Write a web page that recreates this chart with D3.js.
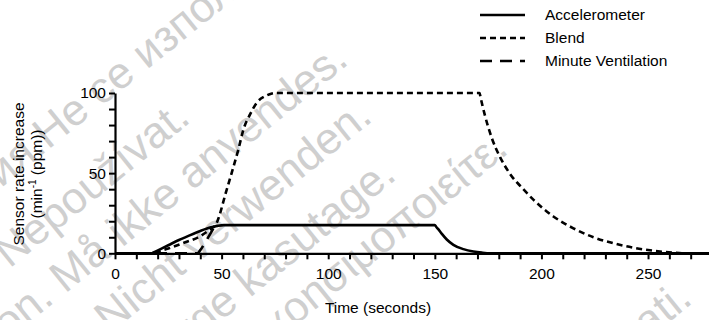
<!DOCTYPE html>
<html><head><meta charset="utf-8">
<script src="https://cdn.jsdelivr.net/npm/d3@7/dist/d3.min.js"></script>
<style>
html,body{margin:0;padding:0;background:#fff;}
svg{display:block;font-family:"Liberation Sans",Arial,Helvetica,sans-serif;}
</style></head>
<body><svg id="c" width="709" height="320"></svg>
<script>
// ---- data ----
const accTime = [0, 17.3, 17.8, 25, 30, 35, 40, 45, 48, 51, 150, 150.7, 151.5, 153.2, 155.6, 158.7, 163.4, 168.1, 172, 176, 280];
const accValue = [0, 0, 0.35, 5, 8.3, 11.2, 13.9, 16.2, 17.1, 17.6, 17.6, 16.4, 15.2, 12.3, 8.6, 5.3, 2.6, 1.1, 0.4, 0, 0];
const blendTime = [0, 18, 18.5, 25, 32, 40, 45.4, 47.2, 48.5, 51.6, 54.8, 57.9, 60.3, 63.4, 66.5, 70.4, 73.6, 75, 171, 171.4, 173.5, 176.7, 180.6, 185.3, 191.5, 196.2, 205.6, 215, 224.4, 233.7, 243, 252.5, 262, 268, 280];
const blendValue = [0, 0, 0.25, 3, 6.4, 10.7, 15.7, 17.6, 21.7, 36, 50.5, 65, 77.5, 86.8, 94, 98, 99.7, 100, 100, 97.6, 86, 72, 60, 49.5, 40, 33.5, 23, 15.6, 10, 6.3, 3.5, 1.6, 0.4, 0, 0];
const mvTime = [0, 38.7, 40, 43.5, 47];
const mvValue = [0, 0, 2, 9.5, 17.5];
const seriesNames = ["Accelerometer", "Blend", "Minute Ventilation"];
const xTicks = d3.range(0, 281, 10);
const xLabels = [0, 50, 100, 150, 200, 250];
const yTicks = d3.range(0, 101, 10);
const yLabels = [0, 50, 100];
const xTitle = "Time (seconds)";
const yTitle1 = "Sensor rate increase";
const yTitle2 = ["(min", "-1", " (ppm))"];
const watermarks = [
  {pre: "Остаряла версия. ", post: "Не се използва.", x: 48, y: 150},
  {pre: "Zastaralá verze. Nepoužívat.", post: "", x: 192, y: 121},
  {pre: "Forældet version. Må ikke anvendes.", post: "", x: 350, y: 63},
  {pre: "Version überholt. Nicht verwenden.", post: "", x: 374, y: 120},
  {pre: "Aegunud versioon. Ärge kasutage.", post: "", x: 398, y: 178},
  {pre: "Παλιά έκδοση. Μην τη χρησιμοποιείτε.", post: "", x: 510, y: 152},
  {pre: "Zastarjela verzija. Nemojte upotrebljavati.", post: "", x: 694, y: 302}
];

// ---- chart ----
const svg = d3.select("#c");
const FS = 15.5;

// watermarks
const wm = svg.append("g").attr("fill", "#cfcfcf").attr("font-size", 44);
watermarks.forEach(w => {
  const g = wm.append("g").attr("transform", `translate(${w.x},${w.y}) rotate(-39)`);
  if (w.pre) g.append("text").attr("text-anchor", "end").text(w.pre);
  if (w.post) g.append("text").attr("text-anchor", "start").text(w.post);
});

const x = d3.scaleLinear().domain([0, 280]).range([115, 712]);
const y = d3.scaleLinear().domain([0, 100]).range([253.3, 93]);

// x axis
const xa = svg.append("g").attr("transform", `translate(0,${y(0)})`)
  .call(d3.axisBottom(x).tickValues(xTicks).tickSize(6).tickSizeOuter(0)
    .tickFormat(d => xLabels.includes(d) ? d : ""));
xa.select(".domain").attr("stroke", "#000").attr("stroke-width", 2.2);
xa.selectAll(".tick line").attr("stroke", "#000").attr("stroke-width", 2);
xa.selectAll(".tick text").attr("font-size", FS).attr("font-family", "Liberation Sans, Arial, sans-serif").attr("fill", "#000").attr("dy", "1.05em");

// y axis
const ya = svg.append("g").attr("transform", `translate(${x(0)},0)`)
  .call(d3.axisLeft(y).tickValues(yTicks).tickSize(6).tickSizeOuter(0)
    .tickFormat(d => yLabels.includes(d) ? d : ""));
ya.select(".domain").attr("stroke", "#000").attr("stroke-width", 2.2);
ya.selectAll(".tick line").attr("stroke", "#000").attr("stroke-width", 2);
ya.selectAll(".tick text").attr("font-size", FS).attr("font-family", "Liberation Sans, Arial, sans-serif").attr("fill", "#000").attr("x", -9);

// titles
svg.append("text").attr("x", 378).attr("y", 313).attr("text-anchor", "middle")
  .attr("font-size", FS).text(xTitle);
svg.append("text").attr("transform", "translate(24,174) rotate(-90)")
  .attr("text-anchor", "middle").attr("font-size", FS).text(yTitle1);
const t2 = svg.append("text").attr("transform", "translate(42,174) rotate(-90)")
  .attr("text-anchor", "middle").attr("font-size", FS);
t2.append("tspan").text(yTitle2[0]);
t2.append("tspan").attr("dy", -6).attr("font-size", 10).text(yTitle2[1]);
t2.append("tspan").attr("dy", 6).text(yTitle2[2]);

// lines
const line = d3.line().x(d => x(d[0])).y(d => y(d[1])).curve(d3.curveMonotoneX);
const dashes = [null, "6,4", "12,8"];
const series = [
  d3.zip(accTime, accValue),
  d3.zip(blendTime, blendValue),
  d3.zip(mvTime, mvValue)
];
[2, 1, 0].forEach(i => {
  svg.append("path").datum(series[i]).attr("d", line)
    .attr("fill", "none").attr("stroke", "#000").attr("stroke-width", 2.6)
    .attr("stroke-dasharray", dashes[i]);
});

// legend
const lg = svg.append("g");
seriesNames.forEach((n, i) => {
  const yy = 15 + i * 23;
  lg.append("line").attr("x1", 480).attr("x2", 525).attr("y1", yy).attr("y2", yy)
    .attr("stroke", "#000").attr("stroke-width", 2.6).attr("stroke-dasharray", dashes[i]);
  lg.append("text").attr("x", 545).attr("y", yy).attr("dy", "0.35em")
    .attr("font-size", FS).text(n);
});
</script></body></html>
